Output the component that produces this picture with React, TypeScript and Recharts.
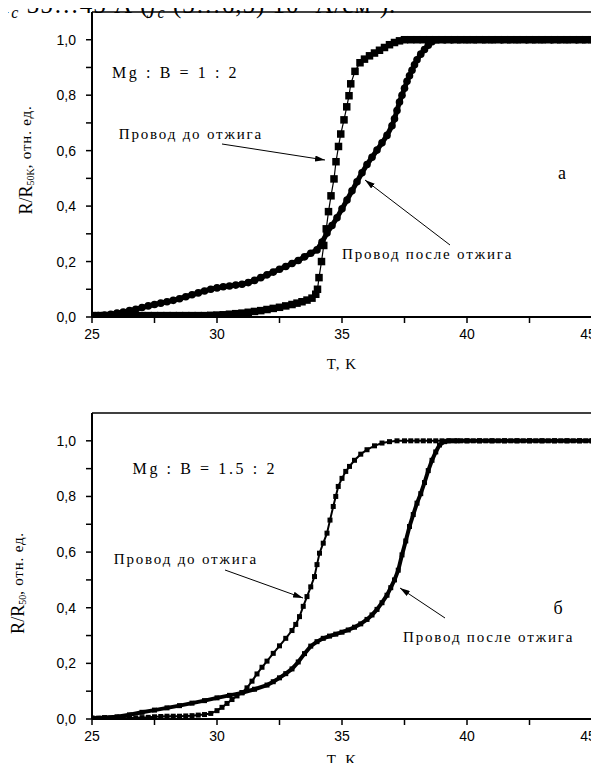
import React from 'react';
import { LineChart, Line, XAxis, YAxis, ReferenceLine } from 'recharts';

// [T, R/R50] pairs
const topBefore: [number, number][] = [
  [25, 0.005], [25.25, 0.005], [25.5, 0.005], [25.75, 0.005], [26, 0.005], [26.25, 0.005], [26.5, 0.005],
  [26.75, 0.005], [27, 0.005], [27.25, 0.005], [27.5, 0.005], [27.75, 0.005], [28, 0.005], [28.25, 0.005],
  [28.5, 0.005], [28.75, 0.005], [29, 0.005], [29.25, 0.005], [29.5, 0.005], [29.75, 0.006], [30, 0.007],
  [30.25, 0.008], [30.5, 0.01], [30.75, 0.012], [31, 0.014], [31.25, 0.017], [31.5, 0.02], [31.75, 0.023],
  [32, 0.027], [32.25, 0.031], [32.5, 0.035], [32.75, 0.04], [33, 0.045], [33.2, 0.05], [33.4, 0.055],
  [33.6, 0.061], [33.8, 0.068], [33.95, 0.082], [34.02, 0.1], [34.08, 0.142], [34.18, 0.2], [34.27, 0.258],
  [34.37, 0.318], [34.46, 0.38], [34.56, 0.437], [34.68, 0.498], [34.76, 0.56], [34.86, 0.615], [34.95, 0.66],
  [35.08, 0.711], [35.19, 0.758], [35.28, 0.798], [35.35, 0.841], [35.52, 0.886], [35.72, 0.917], [35.9, 0.93],
  [36.1, 0.942], [36.3, 0.952], [36.5, 0.962], [36.7, 0.972], [36.9, 0.982], [37.1, 0.99], [37.3, 0.996],
  [37.5, 1], [37.75, 1], [38, 1], [38.25, 1], [38.5, 1], [38.75, 1], [39, 1], [39.25, 1], [39.5, 1],
  [39.75, 1], [40, 1], [40.25, 1], [40.5, 1], [40.75, 1], [41, 1], [41.25, 1], [41.5, 1], [41.75, 1],
  [42, 1], [42.25, 1], [42.5, 1], [42.75, 1], [43, 1], [43.25, 1], [43.5, 1], [43.75, 1], [44, 1],
  [44.25, 1], [44.5, 1], [44.75, 1], [45, 1],
];

const topAfter: [number, number][] = [
  [25, 0.005], [25.25, 0.005], [25.5, 0.007], [25.75, 0.01], [26, 0.014], [26.25, 0.018], [26.5, 0.023],
  [26.75, 0.028], [27, 0.034], [27.25, 0.04], [27.5, 0.045], [27.75, 0.05], [28, 0.055], [28.25, 0.06],
  [28.5, 0.066], [28.75, 0.073], [29, 0.08], [29.25, 0.087], [29.5, 0.094], [29.75, 0.1], [30, 0.105],
  [30.25, 0.109], [30.5, 0.112], [30.75, 0.115], [31, 0.118], [31.25, 0.124], [31.5, 0.132], [31.75, 0.142],
  [32, 0.152], [32.25, 0.162], [32.5, 0.172], [32.75, 0.182], [33, 0.193], [33.25, 0.204], [33.5, 0.217],
  [33.75, 0.23], [34, 0.242], [34.2, 0.27], [34.4, 0.303], [34.6, 0.33], [34.8, 0.358], [35, 0.39],
  [35.2, 0.422], [35.4, 0.455], [35.6, 0.488], [35.8, 0.52], [36, 0.55], [36.2, 0.576], [36.4, 0.602],
  [36.6, 0.628], [36.8, 0.655], [37, 0.69], [37.1, 0.715], [37.2, 0.745], [37.3, 0.775], [37.4, 0.8],
  [37.5, 0.825], [37.6, 0.85], [37.7, 0.87], [37.8, 0.89], [37.9, 0.91], [38, 0.928], [38.15, 0.948],
  [38.3, 0.965], [38.45, 0.98], [38.6, 0.993], [38.8, 1], [39.1, 1], [39.4, 1], [39.7, 1], [40, 1],
  [40.3, 1], [40.7, 1], [41, 1], [41.4, 1], [41.7, 1], [42, 1], [42.4, 1], [42.7, 1], [43, 1],
  [43.4, 1], [43.7, 1], [44, 1], [44.4, 1], [44.7, 1], [45, 1],
];

const botBefore: [number, number][] = [
  [25, 0.003], [25.25, 0.003], [25.5, 0.003], [25.75, 0.003], [26, 0.003], [26.25, 0.003], [26.5, 0.004],
  [26.75, 0.004], [27, 0.005], [27.25, 0.006], [27.5, 0.008], [27.75, 0.009], [28, 0.01], [28.25, 0.01],
  [28.5, 0.01], [28.75, 0.011], [29, 0.012], [29.25, 0.014], [29.5, 0.016], [29.75, 0.02], [30, 0.03],
  [30.2, 0.042], [30.4, 0.056], [30.6, 0.07], [30.8, 0.083], [31, 0.095], [31.2, 0.112], [31.4, 0.136],
  [31.6, 0.162], [31.8, 0.186], [32, 0.208], [32.25, 0.236], [32.5, 0.263], [32.75, 0.29], [33, 0.318],
  [33.15, 0.34], [33.3, 0.368], [33.45, 0.405], [33.6, 0.44], [33.75, 0.475], [33.9, 0.512], [34, 0.555],
  [34.1, 0.596], [34.25, 0.632], [34.4, 0.668], [34.52, 0.715], [34.65, 0.764], [34.75, 0.8], [34.85, 0.836],
  [35, 0.865], [35.15, 0.89], [35.3, 0.908], [35.5, 0.93], [35.75, 0.952], [36, 0.968], [36.3, 0.982],
  [36.6, 0.992], [36.9, 0.997], [37.2, 1], [37.5, 1], [37.75, 1], [38, 1], [38.25, 1], [38.5, 1],
  [38.75, 1], [39, 1], [39.25, 1], [39.5, 1], [39.75, 1], [40, 1], [40.25, 1], [40.5, 1], [40.75, 1],
  [41, 1], [41.25, 1], [41.5, 1], [41.75, 1], [42, 1], [42.25, 1], [42.5, 1], [42.75, 1], [43, 1],
  [43.25, 1], [43.5, 1], [43.75, 1], [44, 1], [44.25, 1], [44.5, 1], [44.75, 1], [45, 1],
];

const botAfter: [number, number][] = [
  [25, 0.003], [25.5, 0.005], [26, 0.008], [26.5, 0.015], [27, 0.024], [27.5, 0.032], [28, 0.04],
  [28.5, 0.048], [29, 0.057], [29.5, 0.066], [30, 0.076], [30.5, 0.085], [31, 0.094], [31.5, 0.107],
  [32, 0.122], [32.25, 0.134], [32.5, 0.148], [32.75, 0.163], [33, 0.18], [33.25, 0.205], [33.5, 0.235],
  [33.75, 0.262], [34, 0.278], [34.25, 0.29], [34.5, 0.298], [34.75, 0.305], [35, 0.312], [35.25, 0.32],
  [35.5, 0.33], [35.75, 0.342], [36, 0.358], [36.2, 0.374], [36.4, 0.394], [36.6, 0.418], [36.8, 0.445],
  [36.95, 0.472], [37.1, 0.5], [37.25, 0.535], [37.4, 0.59], [37.55, 0.64], [37.7, 0.692], [37.85, 0.735],
  [38, 0.776], [38.15, 0.81], [38.3, 0.85], [38.45, 0.893], [38.6, 0.93], [38.75, 0.96], [38.9, 0.985],
  [39.1, 0.997], [39.3, 1], [39.6, 1], [40, 1], [40.5, 1], [41, 1], [41.5, 1], [42, 1], [42.5, 1],
  [43, 1], [43.5, 1], [44, 1], [44.5, 1], [45, 1],
];

const xTicks = [25, 27.5, 30, 32.5, 35, 37.5, 40, 42.5, 45];
const yTicks = [0, 0.1, 0.2, 0.3, 0.4, 0.5, 0.6, 0.7, 0.8, 0.9, 1.0];

const SERIF = '"Liberation Serif", "Times New Roman", serif';
const SANS = '"Liberation Sans", Arial, sans-serif';

const toRows = (pts: [number, number][]) => pts.map(([t, r]) => ({ t, r }));

const square = (size: number) => (props: any) => {
  const { cx, cy, index } = props;
  if (cx == null || cy == null) return <g key={`s-${index}`} />;
  return <rect key={`s-${index}`} x={cx - size / 2} y={cy - size / 2} width={size} height={size} fill="#000" />;
};

const circle = (r: number) => (props: any) => {
  const { cx, cy, index } = props;
  if (cx == null || cy == null) return <g key={`c-${index}`} />;
  return <circle key={`c-${index}`} cx={cx} cy={cy} r={r} fill="#000" />;
};

const fmtX = (v: number) => (v % 5 === 0 ? String(v) : '');
const fmtY = (v: number) => (Math.round(v * 10) % 2 ? '' : v.toFixed(1).replace('.', ','));

// last label sits against the page edge in the scan
const XTick = (p: any) => {
  const v = p.payload.value;
  return (
    <text x={p.x - (v === 45 ? 3 : 0)} y={p.y} dy="0.71em" textAnchor="middle" fill="#000" fontSize={14} fontFamily={SANS}>
      {fmtX(v)}
    </text>
  );
};

const axisLine = { stroke: '#000', strokeWidth: 2 };
const tickLine = { stroke: '#000', strokeWidth: 1.5 };

interface PanelProps {
  top: number;
  height: number;
  marginTop: number;
  axisHeight: number;
  children: React.ReactNode;
}

const Panel: React.FC<PanelProps> = ({ top, height, marginTop, axisHeight, children }) => (
  <div style={{ position: 'absolute', left: 0, top }}>
    <LineChart width={599} height={height} margin={{ top: marginTop, right: 7, left: 0, bottom: 0 }}>
      <XAxis
        type="number"
        dataKey="t"
        domain={[25, 45]}
        ticks={xTicks}
        height={axisHeight}
        tickSize={6}
        tickMargin={6}
        axisLine={axisLine}
        tickLine={tickLine}
        tick={XTick}
        allowDataOverflow
      />
      <YAxis
        type="number"
        domain={[0, 1.1]}
        ticks={yTicks}
        tickFormatter={fmtY}
        width={92}
        tickSize={6}
        tickMargin={10}
        axisLine={axisLine}
        tickLine={tickLine}
        tick={{ fill: '#000', fontSize: 14, fontFamily: SANS }}
        allowDataOverflow
      />
      {/* box frame: top and right edges */}
      <ReferenceLine y={1.1} stroke="#000" strokeWidth={1.5} ifOverflow="extendDomain" />
      <ReferenceLine x={45} stroke="#000" strokeWidth={2} ifOverflow="extendDomain" />
      {children}
    </LineChart>
  </div>
);

const Arrow = ({ x1, y1, x2, y2 }: { x1: number; y1: number; x2: number; y2: number }) => (
  <line x1={x1} y1={y1} x2={x2} y2={y2} stroke="#000" strokeWidth={1} markerEnd="url(#arrowHead)" />
);

export default function App() {
  const ann = { fontFamily: SERIF, fontSize: 15, letterSpacing: 1.8, fill: '#000' } as const;
  return (
    <div style={{ position: 'relative', width: 599, height: 771, margin: -8, overflow: 'hidden', background: '#fff' }}>
      <Panel top={0} height={380} marginTop={12} axisHeight={63}>
        <Line data={toRows(topBefore)} dataKey="r" stroke="#000" strokeWidth={1.2} dot={square(7.5)} isAnimationActive={false} />
        <Line data={toRows(topAfter)} dataKey="r" stroke="#000" strokeWidth={5} dot={circle(3.8)} isAnimationActive={false} />
      </Panel>
      <Panel top={402} height={369} marginTop={11} axisHeight={52}>
        <Line data={toRows(botBefore)} dataKey="r" stroke="#000" strokeWidth={2} dot={square(5)} isAnimationActive={false} />
        <Line data={toRows(botAfter)} dataKey="r" stroke="#000" strokeWidth={4} dot={square(5)} isAnimationActive={false} />
      </Panel>
      <svg width={599} height={771} style={{ position: 'absolute', left: 0, top: 0, pointerEvents: 'none' }}>
        <defs>
          <marker id="arrowHead" viewBox="0 0 10 6" refX="10" refY="3" markerWidth="10" markerHeight="6" orient="auto" markerUnits="userSpaceOnUse">
            <path d="M0,0 L10,3 L0,6 z" fill="#000" />
          </marker>
        </defs>
        {/* page text cut off above the figure */}
        <text x={2} y={13} fontFamily={SERIF} fontSize={25} letterSpacing={1} fill="#000">
          <tspan fontStyle="italic">I</tspan>
          <tspan fontStyle="italic" fontSize={16} dy={5}>c</tspan>
          <tspan dy={-5}>  35…45 А (</tspan>
          <tspan fontStyle="italic">j</tspan>
          <tspan fontStyle="italic" fontSize={16} dy={5}>c</tspan>
          <tspan dy={-5}>  (3…6,5) 10</tspan>
          <tspan fontSize={15} dy={-10}>4</tspan>
          <tspan dy={10}> А/см</tspan>
          <tspan fontSize={15} dy={-10}>2</tspan>
          <tspan dy={10}>).</tspan>
        </text>

        {/* top panel */}
        <text x={112} y={78} {...ann} fontSize={16} letterSpacing={2.6}>Mg : B = 1 : 2</text>
        <text x={263} y={139} {...ann} textAnchor="end">Провод до отжига</text>
        <Arrow x1={222} y1={144} x2={325} y2={160} />
        <text x={342} y={259} {...ann}>Провод после отжига</text>
        <Arrow x1={450} y1={245} x2={365} y2={180} />
        <text x={562} y={179} fontFamily={SERIF} fontSize={18} textAnchor="middle">а</text>
        <text transform="rotate(-90 28 160)" x={28} y={160} textAnchor="middle" dominantBaseline="middle" fontFamily={SERIF} fill="#000">
          <tspan fontSize={18}>R/R</tspan>
          <tspan fontSize={10} dy={4}>50K</tspan>
          <tspan fontSize={15} dy={-4} letterSpacing={0.8}>, отн. ед.</tspan>
        </text>
        <text x={342} y={369} fontFamily={SERIF} fontSize={15} textAnchor="middle" letterSpacing={1}>T, K</text>

        {/* bottom panel */}
        <text x={277} y={474} {...ann} fontSize={16} letterSpacing={2.6} textAnchor="end">Mg : B = 1.5 : 2</text>
        <text x={258} y={564} {...ann} textAnchor="end">Провод до отжига</text>
        <Arrow x1={225} y1={570} x2={303} y2={598} />
        <text x={403} y={642} {...ann}>Провод после отжига</text>
        <Arrow x1={445} y1={618} x2={400} y2={588} />
        <text x={558} y={614} fontFamily={SERIF} fontSize={18} textAnchor="middle">б</text>
        <text transform="rotate(-90 20 583)" x={20} y={583} textAnchor="middle" dominantBaseline="middle" fontFamily={SERIF} fill="#000">
          <tspan fontSize={18}>R/R</tspan>
          <tspan fontSize={10} dy={4}>50</tspan>
          <tspan fontSize={15} dy={-4} letterSpacing={0.8}>, отн. ед.</tspan>
        </text>
        <text x={342} y={765} fontFamily={SERIF} fontSize={15} textAnchor="middle" letterSpacing={1}>T, K</text>
      </svg>
    </div>
  );
}
